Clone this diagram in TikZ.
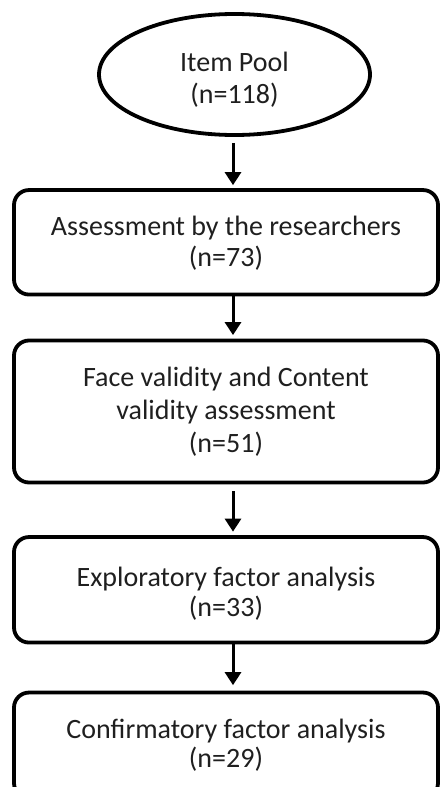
\documentclass[tikz,border=0pt]{standalone}
\usepackage{fontspec}
\setmainfont{Carlito}
\usetikzlibrary{shapes.geometric,arrows.meta,calc}
\newcommand{\boxtext}[3]{\raisebox{#1}[0pt][0pt]{\fontsize{28}{#2}\selectfont\begin{tabular}[t]{@{}c@{}}#3\end{tabular}}}
\begin{document}
\begin{tikzpicture}[x=1pt,y=1pt,
  stagebox/.style={draw=black,line width=3.8pt,rounded corners=15pt,minimum width=424pt,inner sep=0pt,text=black!88},
  poolshape/.style={ellipse,draw=black,line width=3.8pt,minimum width=271pt,minimum height=121pt,inner sep=0pt,text=black!88},
  flow/.style={draw=black,line width=3pt,-{Triangle[length=13pt,width=16pt]}}]
\useasboundingbox (0,0) rectangle (440,-787);
\clip (0,0) rectangle (440,-787);
\node[poolshape] (pool) at (234.5,-74.5) {\boxtext{2.8pt}{31.7pt}{Item Pool\\(n=118)}};
\node[stagebox,minimum height=104.5pt] (b1) at (226,-242.3) {\boxtext{7.3pt}{31.7pt}{Assessment by the researchers\\(n=73)}};
\node[stagebox,minimum height=142pt] (b2) at (226,-411.5) {\boxtext{24.8pt}{33pt}{Face validity and Content\\validity assessment\\(n=51)}};
\node[stagebox,minimum height=105.5pt] (b3) at (226,-589.8) {\boxtext{3.1pt}{29.5pt}{Exploratory factor analysis\\(n=33)}};
\node[stagebox,minimum height=105.5pt] (b4) at (226,-745.3) {\boxtext{7pt}{29.3pt}{Confirmatory factor analysis\\(n=29)}};
\draw[flow] ($(pool.south)+(-1.5,-6)$) -- ($(pool.south |- b1.north)+(-1.5,3)$);
\draw[flow] ($(b1.south)+(7,0)$) -- ($(b2.north)+(7,3.5)$);
\draw[flow] ($(b2.south)+(7,-7)$) -- ($(b3.north)+(7,3.5)$);
\draw[flow] ($(b3.south)+(7,0)$) -- ($(b4.north)+(7,5.5)$);
\end{tikzpicture}
\end{document}
